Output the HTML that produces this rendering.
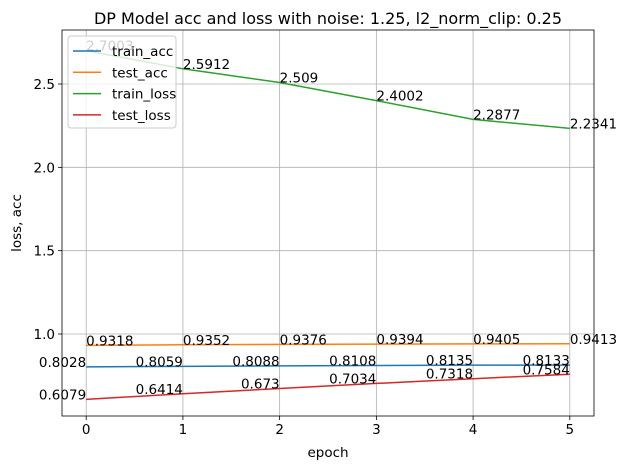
<!DOCTYPE html>
<html><head><meta charset="utf-8"><style>
body{margin:0;background:#fff;}
svg{font-family:"DejaVu Sans","Liberation Sans",sans-serif;}
</style></head><body>
<svg id="c" width="628" height="470" xmlns="http://www.w3.org/2000/svg"></svg>
<script>
const epochs=[0,1,2,3,4,5];
const trainAcc=[0.8028,0.8059,0.8088,0.8108,0.8135,0.8133];
const testAcc=[0.9318,0.9352,0.9376,0.9394,0.9405,0.9413];
const trainLoss=[2.7003,2.5912,2.509,2.4002,2.2877,2.2341];
const testLoss=[0.6079,0.6414,0.673,0.7034,0.7318,0.7584];
const xTicks=[0,1,2,3,4,5];
const yTicks=[1.0,1.5,2.0,2.5];
const yTickLabels=["1.0","1.5","2.0","2.5"];
const L=62,R=594,T=30,B=416;
const xMin=-0.25,xMax=5.25,yMin=0.508,yMax=2.824;
const X=v=>L+(v-xMin)/(xMax-xMin)*(R-L);
const Y=v=>B-(v-yMin)/(yMax-yMin)*(B-T);
const svg=document.getElementById('c');
const NS='http://www.w3.org/2000/svg';
const FS=13.5;
function mk(tag,attrs,parent){const e=document.createElementNS(NS,tag);for(const k in attrs)e.setAttribute(k,attrs[k]);(parent||svg).appendChild(e);return e;}
function txt(s,attrs){const e=mk('text',attrs);e.textContent=s;return e;}
xTicks.forEach(t=>{const g=mk('line',{x1:X(t),x2:X(t),y1:T,y2:B,stroke:'#b0b0b0','stroke-width':0.8});


const tk=mk('line',{x1:X(t),x2:X(t),y1:B,y2:B+4,stroke:'#000','stroke-width':0.8});


const l=txt(String(t),{x:X(t),y:B+18,'text-anchor':'middle','font-size':FS});

});
yTicks.forEach((t,i)=>{const g=mk('line',{x1:L,x2:R,y1:Y(t),y2:Y(t),stroke:'#b0b0b0','stroke-width':0.8});


const tk=mk('line',{x1:L-4,x2:L,y1:Y(t),y2:Y(t),stroke:'#000','stroke-width':0.8});


const l=txt(yTickLabels[i],{x:L-7,y:Y(t)+5,'text-anchor':'end','font-size':FS});

});
const series=[
 {name:'train_acc',data:trainAcc,color:'#1f77b4',anchor:'end'},
 {name:'test_acc',data:testAcc,color:'#ff7f0e',anchor:'start'},
 {name:'train_loss',data:trainLoss,color:'#2ca02c',anchor:'start'},
 {name:'test_loss',data:testLoss,color:'#d62728',anchor:'end'}];
series.forEach(s=>{
 const p=mk('polyline',{points:s.data.map((v,i)=>X(epochs[i])+','+Y(v)).join(' '),fill:'none',stroke:s.color,'stroke-width':1.5});
 
 
 s.data.forEach((v,i)=>{const t=txt(String(v),{x:X(epochs[i]),y:Y(v),'text-anchor':s.anchor,'font-size':FS});
 
 });
});
const fr=mk('rect',{x:L,y:T,width:R-L,height:B-T,fill:'none',stroke:'#000','stroke-width':0.8});


const lg=mk('rect',{x:68,y:36,width:108,height:92,fill:'#fff','fill-opacity':0.8,stroke:'#ccc',rx:3});


series.forEach((s,i)=>{const y=51+i*21.3;
 const ln=mk('line',{x1:73,x2:101,y1:y,y2:y,stroke:s.color,'stroke-width':1.5});
 
 
 const t=txt(s.name,{x:112,y:y+5,'font-size':FS});
 
 });
const tt=txt('DP Model acc and loss with noise: 1.25, l2_norm_clip: 0.25',{x:(L+R)/2,y:24,'text-anchor':'middle','font-size':16});


const xt=txt('epoch',{x:(L+R)/2,y:457,'text-anchor':'middle','font-size':FS});


const yt=txt('loss, acc',{x:0,y:0,'text-anchor':'middle','font-size':FS,transform:'translate(21,'+((T+B)/2)+') rotate(-90)'});


</script>
</body></html>
